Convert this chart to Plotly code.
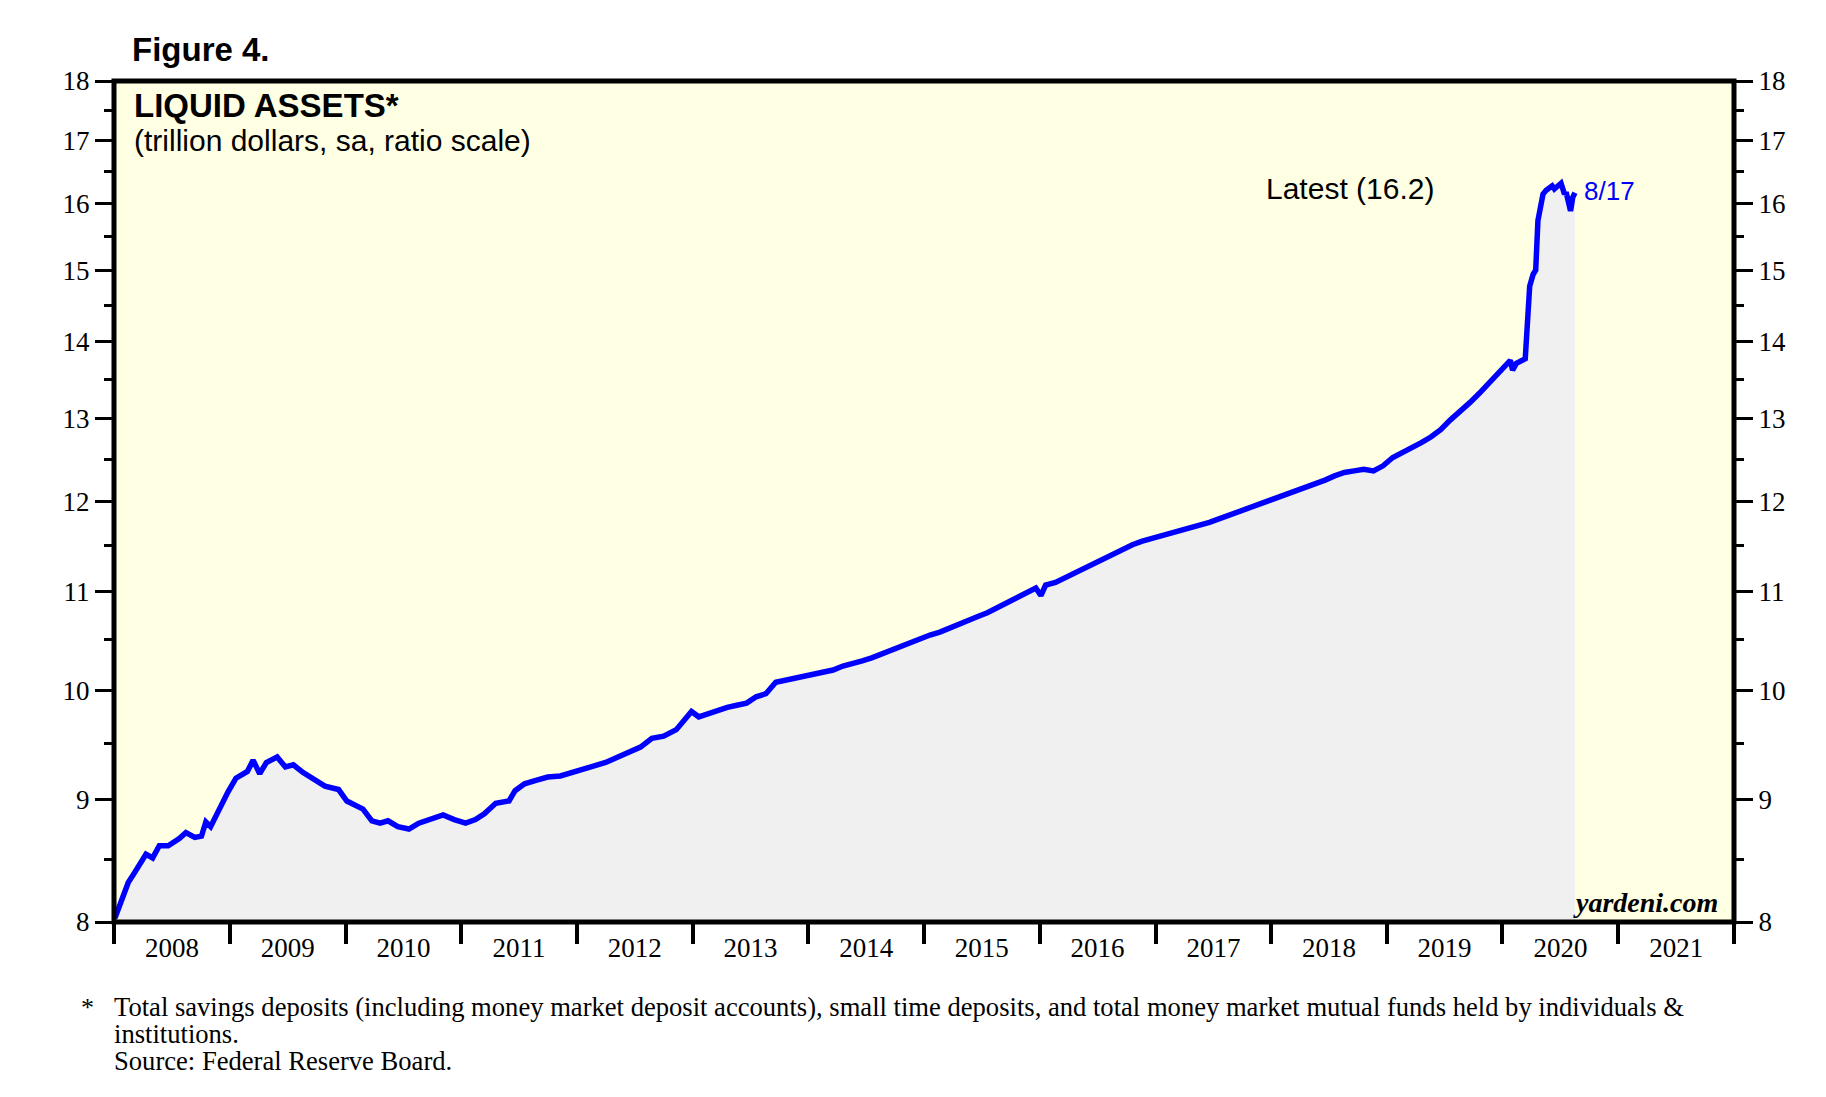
import math
import plotly.graph_objects as go

# ---------------- data ----------------
dates = [
    "2008-01-04", "2008-01-18", "2008-02-01", "2008-02-15", "2008-03-01", "2008-03-21",
    "2008-04-11", "2008-05-02", "2008-05-23", "2008-06-20", "2008-07-25", "2008-08-15",
    "2008-09-12", "2008-10-03", "2008-10-17", "2008-11-01", "2008-12-01", "2008-12-26",
    "2009-01-20", "2009-02-25", "2009-03-15", "2009-04-05", "2009-04-26", "2009-05-30",
    "2009-06-25", "2009-07-20", "2009-08-20", "2009-09-20", "2009-10-28", "2009-12-10",
    "2010-01-05", "2010-02-25", "2010-03-25", "2010-04-20", "2010-05-15", "2010-06-15",
    "2010-07-20", "2010-08-20", "2010-09-30", "2010-11-05", "2010-12-10",
    "2011-01-15", "2011-02-15", "2011-03-15", "2011-04-20", "2011-06-01", "2011-06-20",
    "2011-07-20", "2011-08-25", "2011-10-01", "2011-11-10", "2011-12-15",
    "2012-01-20", "2012-02-25", "2012-04-01", "2012-05-10", "2012-06-15", "2012-07-20",
    "2012-08-25", "2012-10-01", "2012-11-10", "2012-12-28",
    "2013-01-20", "2013-02-20", "2013-03-20", "2013-04-20", "2013-05-20", "2013-06-20",
    "2013-07-20", "2013-08-20", "2013-09-20", "2013-10-20", "2013-11-20", "2013-12-20",
    "2014-01-20", "2014-02-20", "2014-03-20", "2014-04-20", "2014-05-20", "2014-06-20",
    "2014-07-20", "2014-08-20", "2014-09-20", "2014-10-20", "2014-11-20", "2014-12-20",
    "2015-01-20", "2015-02-20", "2015-03-20", "2015-04-20", "2015-05-20", "2015-06-20",
    "2015-07-20", "2015-08-20", "2015-09-20", "2015-10-20", "2015-11-20", "2015-12-20",
    "2016-01-05", "2016-01-20", "2016-02-20", "2016-03-20", "2016-04-20", "2016-05-20",
    "2016-06-20", "2016-07-20", "2016-08-20", "2016-09-20", "2016-10-20", "2016-11-20",
    "2016-12-20",
    "2017-01-20", "2017-02-20", "2017-03-20", "2017-04-20", "2017-05-20", "2017-06-20",
    "2017-07-20", "2017-08-20", "2017-09-20", "2017-10-20", "2017-11-20", "2017-12-20",
    "2018-01-20", "2018-02-20", "2018-03-20", "2018-04-20", "2018-05-20", "2018-06-20",
    "2018-07-20", "2018-08-20", "2018-09-20", "2018-10-20", "2018-11-20", "2018-12-20",
    "2019-01-20", "2019-02-20", "2019-03-20", "2019-04-20", "2019-05-20", "2019-06-20",
    "2019-07-20", "2019-08-20", "2019-09-20", "2019-10-20", "2019-11-20", "2019-12-25",
    "2020-01-26", "2020-02-02", "2020-02-14", "2020-03-13", "2020-03-16", "2020-03-27",
    "2020-04-07", "2020-04-15", "2020-04-22", "2020-05-08", "2020-05-18", "2020-06-06",
    "2020-06-13", "2020-07-04", "2020-07-15", "2020-07-20", "2020-08-03", "2020-08-10",
    "2020-08-17",
]
liquid_assets = [
    8.03, 8.12, 8.24, 8.31, 8.37, 8.46,
    8.54, 8.51, 8.61, 8.61, 8.67, 8.72,
    8.68, 8.69, 8.81, 8.77, 8.94, 9.07,
    9.19, 9.25, 9.35, 9.23, 9.33, 9.38,
    9.29, 9.31, 9.24, 9.18, 9.12, 9.09,
    8.99, 8.92, 8.82, 8.80, 8.82, 8.77,
    8.75, 8.80, 8.84, 8.87, 8.83,
    8.80, 8.83, 8.88, 8.97, 8.99, 9.08,
    9.14, 9.17, 9.20, 9.21, 9.24,
    9.27, 9.30, 9.33, 9.38, 9.43, 9.47,
    9.55, 9.57, 9.63, 9.80,
    9.75, 9.78, 9.82, 9.84, 9.86, 9.88,
    9.94, 9.97, 10.08, 10.10, 10.12, 10.15,
    10.16, 10.18, 10.20, 10.24, 10.26, 10.29,
    10.32, 10.36, 10.40, 10.43, 10.47, 10.51,
    10.55, 10.58, 10.62, 10.66, 10.70, 10.74,
    10.78, 10.83, 10.88, 10.93, 10.98, 11.04,
    10.96, 11.07, 11.10, 11.15, 11.20, 11.25,
    11.30, 11.36, 11.41, 11.46, 11.51, 11.55,
    11.58,
    11.61, 11.63, 11.66, 11.70, 11.73, 11.76,
    11.80, 11.84, 11.88, 11.92, 11.96, 12.00,
    12.04, 12.08, 12.12, 12.16, 12.21, 12.25,
    12.30, 12.34, 12.36, 12.38, 12.36, 12.42,
    12.52, 12.58, 12.63, 12.70, 12.77, 12.86,
    12.98, 13.08, 13.20, 13.32, 13.45, 13.60,
    13.75, 13.62, 13.71, 13.77, 13.98, 14.77,
    14.94, 15.00, 15.73, 16.14, 16.20, 16.27,
    16.22, 16.31, 16.14, 16.17, 15.88, 16.09,
    16.16,
]

y_major = [8, 9, 10, 11, 12, 13, 14, 15, 16, 17, 18]
y_minor = [8.5, 9.5, 10.5, 11.5, 12.5, 13.5, 14.5, 15.5, 16.5, 17.5]
year_ticks = [f"{y}-01-01" for y in range(2008, 2023)]
x_range = ["2008-01-01", "2022-01-01"]

title_text = "Figure 4."
chart_title = "LIQUID ASSETS*"
chart_subtitle = "(trillion dollars, sa, ratio scale)"
latest_label = "Latest (16.2)"
latest_date = "8/17"
footnotes = [
    "Total savings deposits (including money market deposit accounts), small time deposits, and total money market mutual funds held by individuals &",
    "institutions.",
    "Source: Federal Reserve Board.",
]

# ---------------- style ----------------
SERIF = "Liberation Serif, Times New Roman, serif"
SANS = "Liberation Sans, Arial, sans-serif"
BLUE = "#0000FF"
BG = "#FFFFE4"
FILL = "#F0F0F0"

fig = go.Figure()
fig.add_trace(go.Scatter(
    x=dates, y=liquid_assets, mode="lines",
    line=dict(color=BLUE, width=5.5),
    fill="tozeroy", fillcolor=FILL,
    hoverinfo="x+y", showlegend=False,
))
# invisible helper trace so the secondary axes render
fig.add_trace(go.Scatter(x=[dates[0]], y=[liquid_assets[0]], xaxis="x2", yaxis="y2",
                         mode="markers", marker=dict(opacity=0), showlegend=False,
                         hoverinfo="skip"))

yr = [math.log10(8), math.log10(18)]

yaxis_common = dict(
    type="log", range=yr, tickmode="array", tickvals=y_major,
    ticktext=[str(v) for v in y_major],
    ticks="outside", ticklen=18, tickwidth=2.5, tickcolor="black",
    showgrid=False, zeroline=False, showline=False,
    tickfont=dict(family=SERIF, size=27, color="black"),
    minor=dict(tickmode="array", tickvals=y_minor, ticks="outside", ticklen=9,
               tickwidth=2.5, tickcolor="black", showgrid=False),
    fixedrange=True,
)

fig.update_layout(
    width=1810, height=1081,
    margin=dict(l=106, r=84, t=73, b=167),
    paper_bgcolor="white", plot_bgcolor=BG,
    xaxis=dict(
        type="date", range=x_range, tick0="2008-01-01", dtick="M12",
        ticklabelmode="period", tickformat="%Y", ticks="",
        ticklabelstandoff=7,
        showgrid=False, zeroline=False, showline=False,
        tickfont=dict(family=SERIF, size=27, color="black"),
    ),
    xaxis2=dict(
        type="date", range=x_range, overlaying="x", anchor="y", side="bottom",
        tickmode="array", tickvals=year_ticks, ticks="outside", ticklen=21,
        tickwidth=4, tickcolor="black", showticklabels=False,
        showgrid=False, zeroline=False, showline=False,
    ),
    yaxis=dict(side="left", **yaxis_common),
    yaxis2=dict(side="right", overlaying="y", anchor="x", **yaxis_common),
    shapes=[dict(type="rect", xref="paper", yref="paper", x0=0, y0=0, x1=1, y1=1,
                 line=dict(color="black", width=5), layer="above")],
    showlegend=False,
)

anns = [
    dict(text=f"<b>{title_text}</b>", x=0.0099, y=1.0375, xanchor="left", yanchor="middle",
         font=dict(family=SANS, size=33, color="black")),
    dict(text=f"<b>{chart_title}</b>", x=0.0111, y=0.9709, xanchor="left", yanchor="middle",
         font=dict(family=SANS, size=33, color="black")),
    dict(text=chart_subtitle, x=0.0111, y=0.9287, xanchor="left", yanchor="middle",
         font=dict(family=SANS, size=30, color="black")),
    dict(text=latest_label, x=0.816, y=0.8716, xanchor="right", yanchor="middle",
         font=dict(family=SANS, size=30, color="black")),
    dict(text=latest_date, x=0.906, y=0.8692, xanchor="left", yanchor="middle",
         font=dict(family=SANS, size=26, color=BLUE)),
    dict(text="<b><i>yardeni.com</i></b>", x=0.9914, y=0.0226, xanchor="right", yanchor="middle",
         font=dict(family=SERIF, size=28, color="black")),
    dict(text="*", x=-0.0164, y=-0.1011, xanchor="center", yanchor="middle",
         font=dict(family=SERIF, size=26, color="black")),
]
for i, line in enumerate(footnotes):
    anns.append(dict(text=line, x=-0.0012, y=-0.1011 - 0.0321 * i, xanchor="left", yanchor="middle",
                     font=dict(family=SERIF, size=26.6, color="black")))
for a in anns:
    a.update(xref="paper", yref="paper", showarrow=False)
fig.update_layout(annotations=anns)

fig.write_html("out.html")
